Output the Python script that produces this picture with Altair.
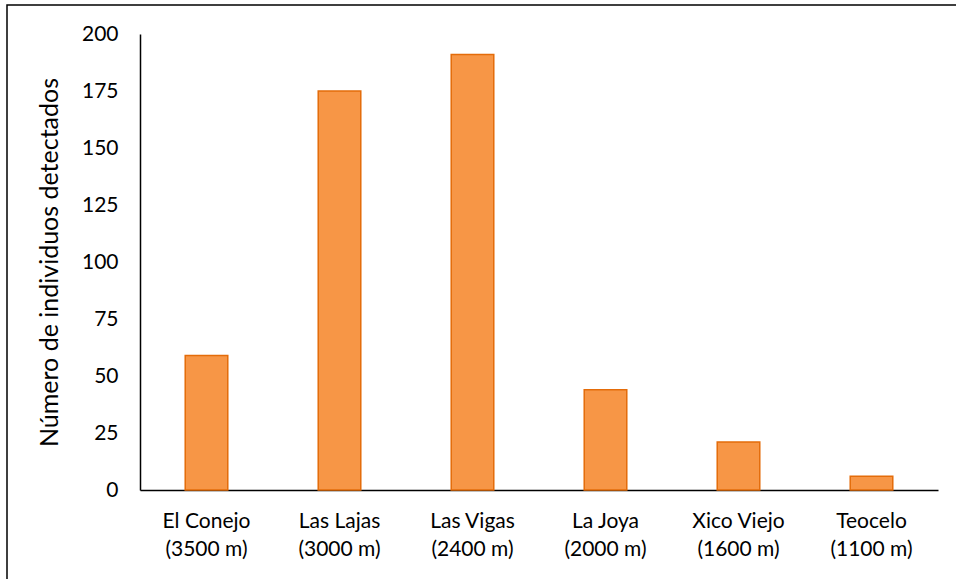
import altair as alt
import pandas as pd

# Sites along the altitudinal gradient and individuals detected at each
sitios = ["El Conejo", "Las Lajas", "Las Vigas", "La Joya", "Xico Viejo", "Teocelo"]
altitudes = ["(3500 m)", "(3000 m)", "(2400 m)", "(2000 m)", "(1600 m)", "(1100 m)"]
individuos = [59, 175, 191, 44, 21, 6]

etiquetas = [f"{s}|{a}" for s, a in zip(sitios, altitudes)]
df = pd.DataFrame({"sitio": etiquetas, "individuos": individuos})

FONT = "Lato"

bars = alt.Chart(df).mark_bar(
    fill="#F79646", stroke="#E46C0A", strokeWidth=1.5
).encode(
    x=alt.X(
        "sitio:N",
        sort=etiquetas,
        title=None,
        scale=alt.Scale(paddingInner=0.68, paddingOuter=0.34),
        axis=alt.Axis(
            labelExpr="split(datum.label, '|')",
            labelAngle=0,
            labelFontSize=21,
            labelLineHeight=28,
            labelPadding=20,
            labelColor="#000000",
            labelFont=FONT,
            ticks=False,
            domainColor="#000000",
            domainWidth=1.5,
        ),
    ),
    y=alt.Y(
        "individuos:Q",
        title="Número de individuos detectados",
        scale=alt.Scale(domain=[0, 200], nice=False),
        axis=alt.Axis(
            values=[0, 25, 50, 75, 100, 125, 150, 175, 200],
            grid=False,
            ticks=False,
            labelFontSize=21,
            labelPadding=22,
            labelColor="#000000",
            labelFont=FONT,
            domainColor="#000000",
            domainWidth=1.5,
            titleFont=FONT,
            titleFontSize=25,
            titleFontWeight="normal",
            titleColor="#000000",
            titlePadding=19,
        ),
    ),
)

# Outer frame around the figure
frame = alt.Chart(pd.DataFrame({"k": [0]})).mark_rect(
    fill=None, stroke="#000000", strokeWidth=1.5
).encode(
    x=alt.value(-133), x2=alt.value(830),
    y=alt.value(-29), y2=alt.value(560),
)

chart = alt.layer(bars, frame).properties(
    width=798,
    height=456,
    padding={"left": 140, "top": 34, "right": 18, "bottom": 89},
    autosize=alt.AutoSizeParams(type="none"),
    background="#FFFFFF",
).configure_view(stroke=None)

chart.save("out.html", embed_options={"renderer": "svg", "actions": False})
